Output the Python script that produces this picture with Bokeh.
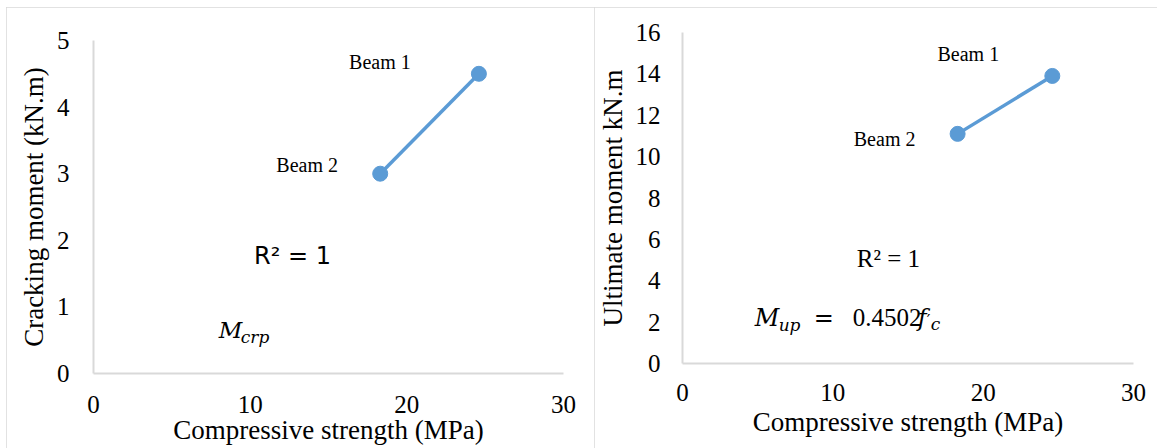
from bokeh.plotting import figure
from bokeh.layouts import row
from bokeh.models import ColumnDataSource, Label, FixedTicker, Range1d
from bokeh.embed import file_html
from bokeh.resources import INLINE

# Test results for the two beams
strength = [18.3, 24.6]          # compressive strength f'c (MPa)
cracking = [3.0, 4.5]            # cracking moment (kN.m)
ultimate = [11.1, 13.9]          # ultimate moment (kN.m)
beam_names = ["Beam 2", "Beam 1"]

x_ticks = [0, 10, 20, 30]
crack_ticks = [0, 1, 2, 3, 4, 5]
ult_ticks = [0, 2, 4, 6, 8, 10, 12, 14, 16]

BLUE = "#5B9BD5"
GRID_GRAY = "#d9d9d9"
SERIF = "Liberation Serif"
MATH = "DejaVu Serif"


def make_panel(width, height, borders, y_max, y_ticks, x_title, y_title,
               tick_standoffs, title_standoffs):
    p = figure(width=width, height=height, output_backend="svg", toolbar_location=None,
               x_range=Range1d(0, 30), y_range=Range1d(0, y_max),
               min_border_left=borders[0], min_border_right=borders[1],
               min_border_top=borders[2], min_border_bottom=borders[3])
    p.frame_align = False
    p.outline_line_color = None
    p.grid.visible = False
    p.background_fill_color = "white"
    p.border_fill_color = "white"
    p.xaxis.ticker = FixedTicker(ticks=x_ticks)
    p.yaxis.ticker = FixedTicker(ticks=y_ticks)
    for ax in (p.xaxis[0], p.yaxis[0]):
        ax.axis_line_color = GRID_GRAY
        ax.axis_line_width = 2
        ax.major_tick_line_color = None
        ax.minor_tick_line_color = None
        ax.major_tick_out = 0
        ax.major_tick_in = 0
        ax.major_label_text_font = SERIF
        ax.major_label_text_font_size = "25px"
        ax.major_label_text_color = "black"
        ax.major_label_text_line_height = 1.0
        ax.axis_label_text_font = SERIF
        ax.axis_label_text_font_size = "27px"
        ax.axis_label_text_font_style = "normal"
        ax.axis_label_text_color = "black"
        ax.axis_label_text_line_height = 1.0
    p.xaxis.major_label_standoff = tick_standoffs[0]
    p.yaxis.major_label_standoff = tick_standoffs[1]
    p.xaxis.axis_label_standoff = title_standoffs[0]
    p.yaxis.axis_label_standoff = title_standoffs[1]
    p.xaxis.axis_label = x_title
    p.yaxis.axis_label = y_title
    p.styles = {"outline": f"2px solid {GRID_GRAY}", "outline-offset": "-2px"}
    return p


def add_series(p, ys, offsets, font_size="20px"):
    src = ColumnDataSource(dict(x=strength, y=ys))
    p.line("x", "y", source=src, line_color=BLUE, line_width=3.5)
    p.scatter("x", "y", source=src, size=15, fill_color=BLUE, line_color=BLUE)
    for name, xv, yv, (dx, dy) in zip(beam_names, strength, ys, offsets):
        p.add_layout(Label(x=xv, y=yv, text=name, x_offset=dx, y_offset=dy,
                           text_font=SERIF, text_font_size=font_size,
                           text_align="center", text_baseline="middle", text_color="black"))


def add_math(p, x, y, parts):
    # parts: (text, dx, dy, size, style, font)
    for text, dx, dy, size, style, font in parts:
        p.add_layout(Label(x=x, y=y, text=text, x_offset=dx, y_offset=dy,
                           text_font=font, text_font_size=size, text_font_style=style,
                           text_align="left", text_baseline="middle", text_color="black"))


# Cracking moment panel
left = make_panel(588, 441, (87, 31, 33, 75), 5, crack_ticks,
                  "Compressive strength (MPa)", "Cracking moment (kN.m)",
                  (22, 24), (-1, 5))
add_series(left, cracking, [(-73, 9), (-99, 12)])
left.add_layout(Label(x=12.7, y=1.77, text="R² = 1", text_font="DejaVu Sans",
                      text_font_size="24px", text_align="center", text_baseline="middle",
                      text_color="black"))
add_math(left, 8.0, 0.65, [("M", 0, 0, "23px", "italic", MATH),
                           ("crp", 22, -7, "17px", "italic", MATH)])

# Ultimate moment panel
right = make_panel(563, 441, (85, 24, 25, 85), 16, ult_ticks,
                   "Compressive strength (MPa)", "Ultimate moment kN.m",
                   (20, 22), (3, 5))
add_series(right, ultimate, [(-73, -5), (-84, 22)])
right.add_layout(Label(x=13.7, y=5.07, text="R² = 1", text_font=SERIF,
                       text_font_size="25px", text_align="center", text_baseline="middle",
                       text_color="black"))
add_math(right, 4.8, 2.2, [("M", 0, 0, "24px", "italic", MATH),
                           ("up", 24, -7, "17px", "italic", MATH),
                           ("=", 59, 0, "24px", "normal", MATH),
                           ("0.4502", 98, 0, "25px", "normal", SERIF),
                           ("f", 163, 0, "24px", "italic", MATH),
                           ("\u2032", 172, -3, "16px", "normal", MATH),
                           ("c", 176, -6, "17px", "italic", MATH)])

layout = row(left, right, spacing=0)
layout.margin = (7, 0, 0, 6)

open("out.html", "w").write(file_html(layout, INLINE))
